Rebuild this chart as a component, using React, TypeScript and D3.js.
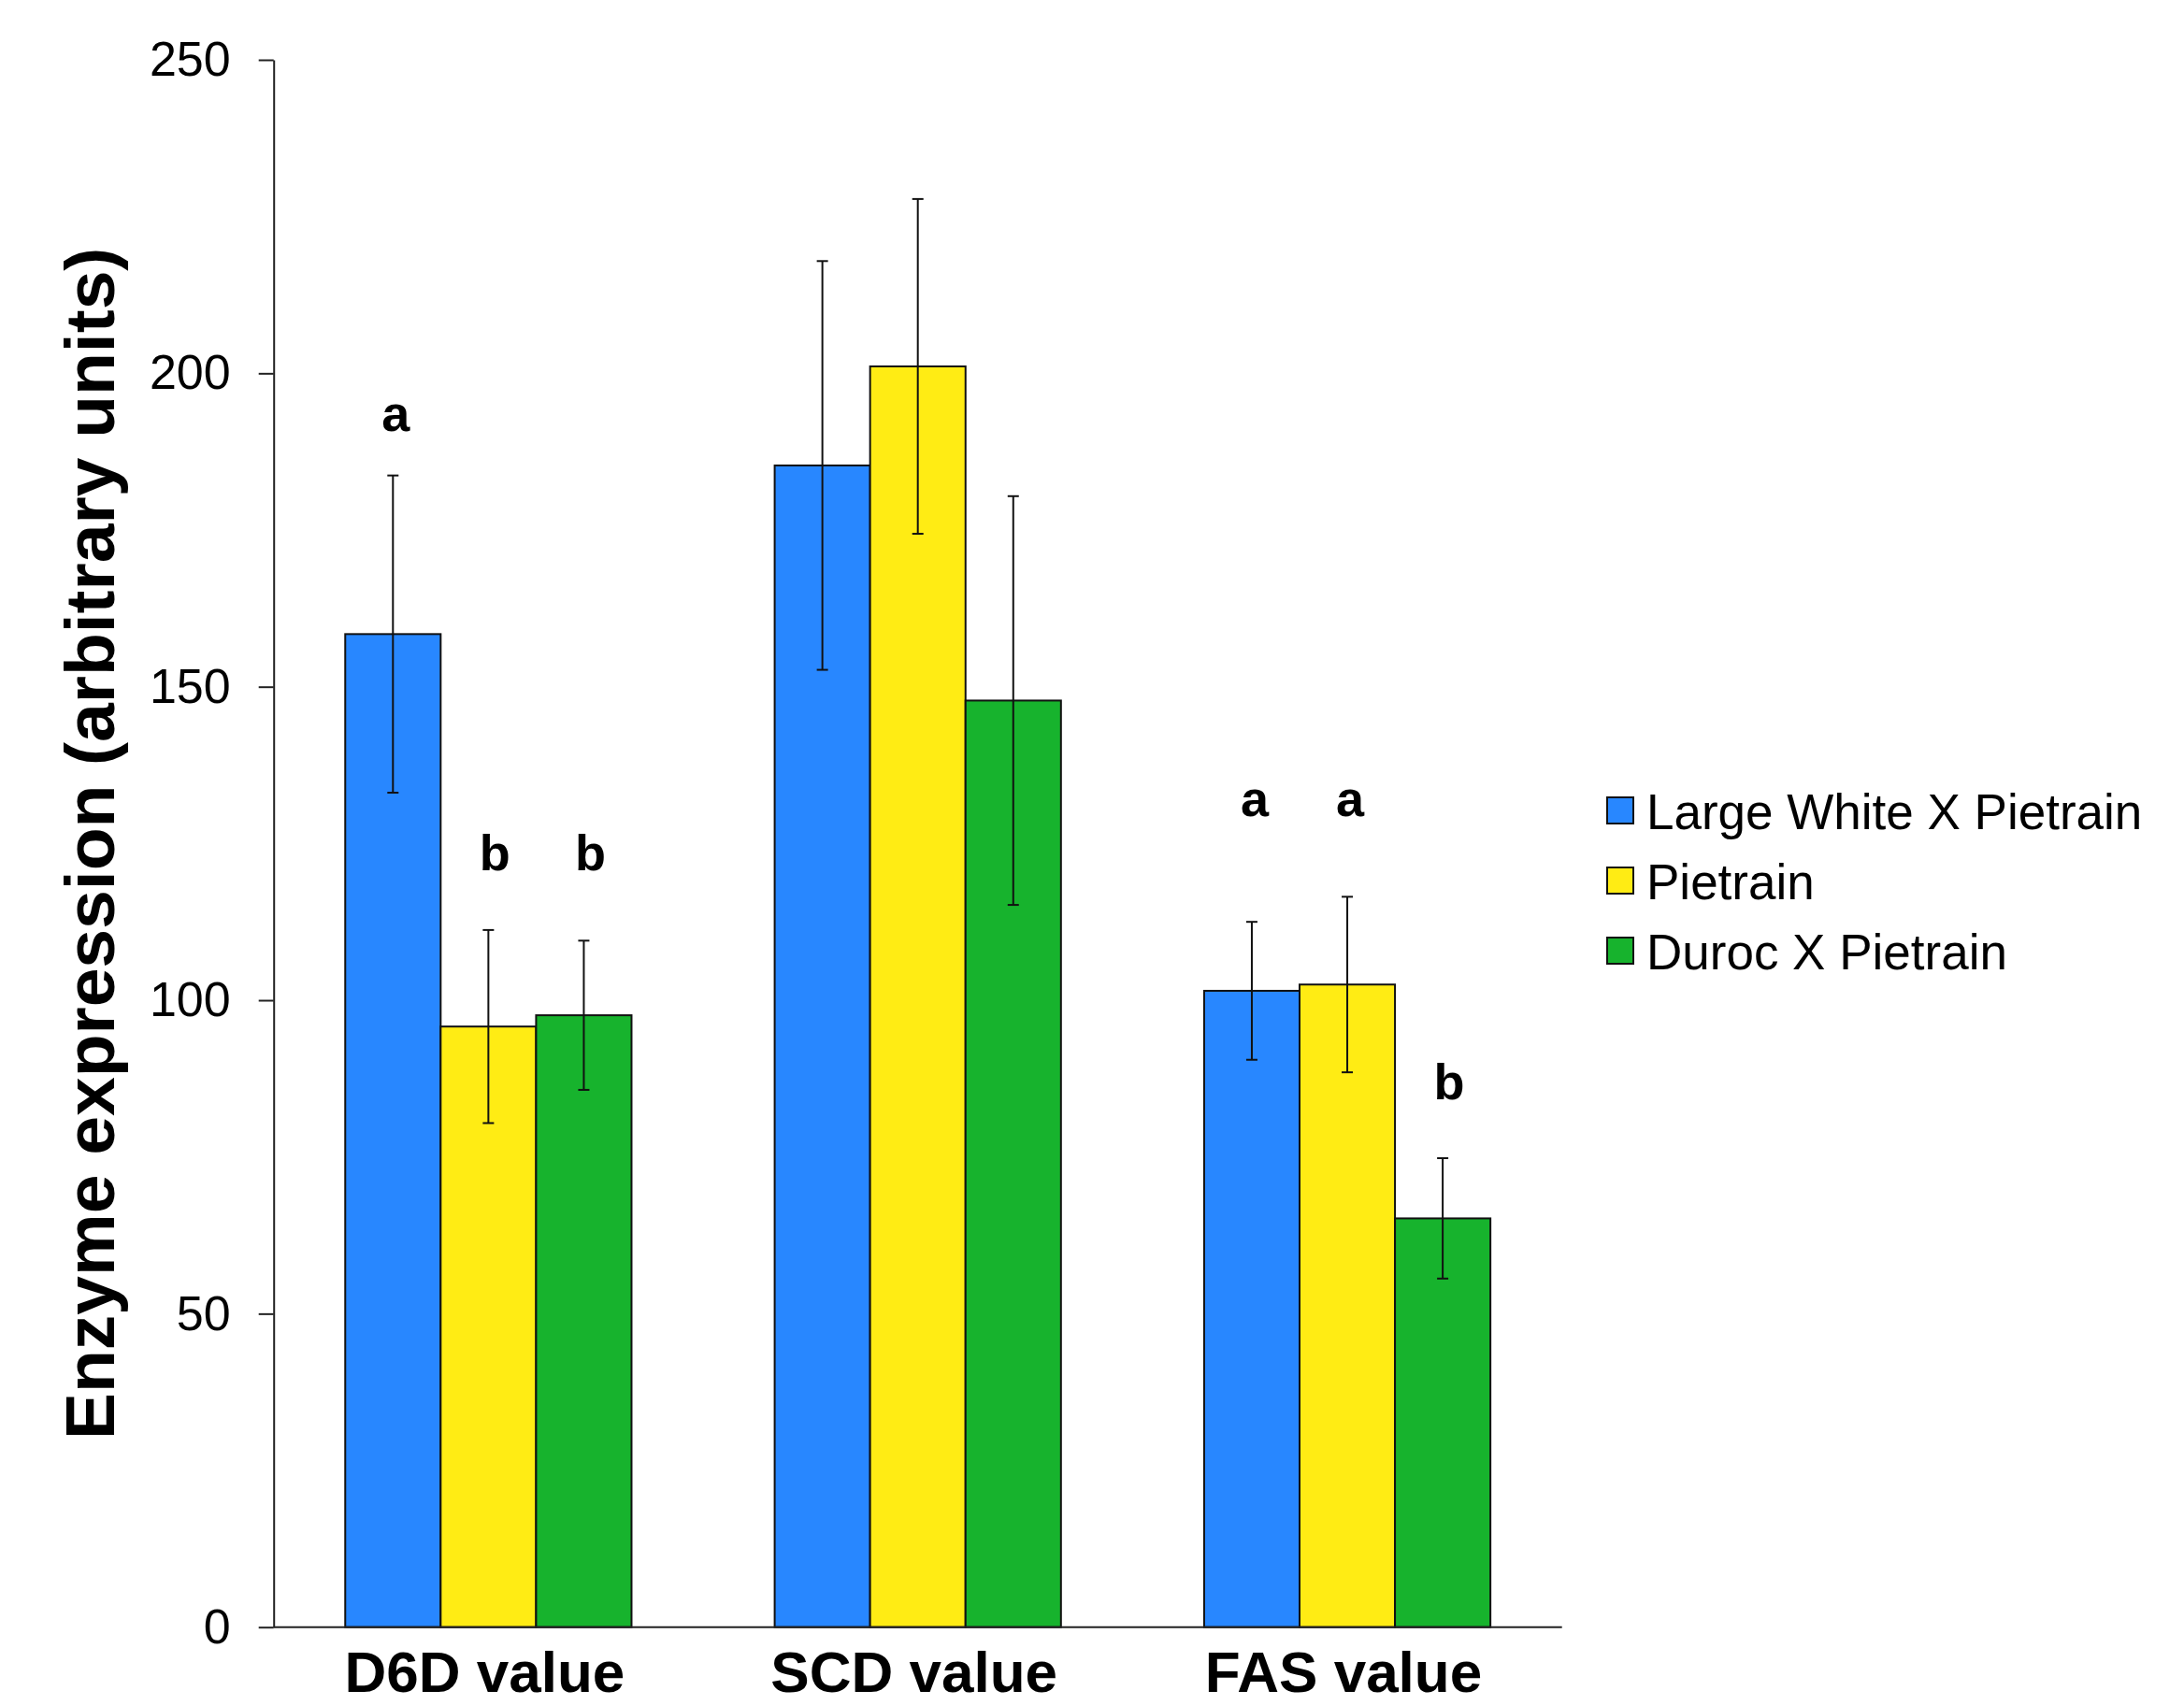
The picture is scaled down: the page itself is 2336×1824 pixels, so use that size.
import React, { useRef, useEffect } from "react";
import * as d3 from "d3";

const categories = ["D6D value", "SCD value", "FAS value"];
const seriesNames = ["Large White X Pietrain", "Pietrain", "Duroc X Pietrain"];
const seriesColors = ["#2887ff", "#ffec14", "#17b32d"];

// means, one array per series, in category order
const lwpValues = [158.4, 185.3, 101.5];
const pietrainValues = [95.8, 201.1, 102.5];
const durocValues = [97.6, 147.8, 65.2];

// error bar half-lengths
const lwpErrors = [25.3, 32.6, 11.0];
const pietrainErrors = [15.4, 26.7, 14.0];
const durocErrors = [11.9, 32.6, 9.6];

// significance letters and the value they sit at
const lwpLetters = ["a", "", "a"];
const pietrainLetters = ["b", "", "a"];
const durocLetters = ["b", "", "b"];
const lwpLetterAt = [190.8, 0, 129.4];
const pietrainLetterAt = [120.7, 0, 129.4];
const durocLetterAt = [120.7, 0, 84.2];

const yTicks = [0, 50, 100, 150, 200, 250];

const W = 2336;
const H = 1824;
const FONT = "'Liberation Sans', Arial, Helvetica, sans-serif";

export default function App() {
  const ref = useRef<SVGSVGElement>(null);

  useEffect(() => {
    const svg = d3.select(ref.current);
    svg.selectAll("*").remove();

    const left = 292.7, right = 1670.7, top = 64, bottom = 1740.7;

    const values = [lwpValues, pietrainValues, durocValues];
    const errors = [lwpErrors, pietrainErrors, durocErrors];
    const letters = [lwpLetters, pietrainLetters, durocLetters];
    const letterAt = [lwpLetterAt, pietrainLetterAt, durocLetterAt];

    const x0 = d3.scaleBand<string>()
      .domain(categories)
      .range([left, right])
      .paddingInner(1 / 3)
      .paddingOuter(1 / 6);

    const x1 = d3.scaleBand<string>()
      .domain(seriesNames)
      .range([0, x0.bandwidth()]);

    const y = d3.scaleLinear().domain([0, 250]).range([bottom, top]);

    const rows: any[] = [];
    categories.forEach((c, ci) => {
      seriesNames.forEach((s, si) => {
        rows.push({
          cat: c, series: s, si,
          value: values[si][ci],
          err: errors[si][ci],
          letter: letters[si][ci],
          letterAt: letterAt[si][ci],
        });
      });
    });

    const g = svg.append("g");

    // bars
    g.selectAll("rect.bar")
      .data(rows)
      .enter()
      .append("rect")
      .attr("class", "bar")
      .attr("x", (d) => x0(d.cat)! + x1(d.series)!)
      .attr("y", (d) => y(d.value))
      .attr("width", x1.bandwidth())
      .attr("height", (d) => y(0) - y(d.value))
      .attr("fill", (d) => seriesColors[d.si])
      .attr("stroke", "#111")
      .attr("stroke-width", 2);

    // error bars
    const cx = (d: any) => x0(d.cat)! + x1(d.series)! + x1.bandwidth() / 2;
    const eb = g.selectAll("g.err").data(rows).enter().append("g")
      .attr("stroke", "#111").attr("stroke-width", 2);
    eb.append("line")
      .attr("x1", cx).attr("x2", cx)
      .attr("y1", (d) => y(d.value - d.err))
      .attr("y2", (d) => y(d.value + d.err));
    eb.append("line")
      .attr("x1", (d) => cx(d) - 6).attr("x2", (d) => cx(d) + 6)
      .attr("y1", (d) => y(d.value + d.err))
      .attr("y2", (d) => y(d.value + d.err));
    eb.append("line")
      .attr("x1", (d) => cx(d) - 6).attr("x2", (d) => cx(d) + 6)
      .attr("y1", (d) => y(d.value - d.err))
      .attr("y2", (d) => y(d.value - d.err));

    // letters
    g.selectAll("text.letter")
      .data(rows.filter((d) => d.letter))
      .enter()
      .append("text")
      .attr("class", "letter")
      .attr("x", (d) => cx(d) + (d.letter === "b" ? 7 : 3))
      .attr("y", (d) => y(d.letterAt))
      .attr("text-anchor", "middle")
      .attr("font-family", FONT)
      .attr("font-weight", "bold")
      .attr("font-size", 54)
      .text((d) => d.letter);

    // y axis
    const yAxis = g.append("g")
      .attr("transform", `translate(${left},0)`)
      .call(d3.axisLeft(y).tickValues(yTicks).tickSize(16).tickSizeOuter(0).tickPadding(30));
    yAxis.select(".domain").attr("stroke", "#222").attr("stroke-width", 2);
    yAxis.selectAll(".tick line").attr("stroke", "#222").attr("stroke-width", 2);
    yAxis.selectAll(".tick text")
      .attr("font-family", FONT)
      .attr("font-size", 52)
      .attr("fill", "#000");

    // x axis line
    g.append("line")
      .attr("x1", left).attr("x2", right)
      .attr("y1", bottom).attr("y2", bottom)
      .attr("stroke", "#222").attr("stroke-width", 2);

    g.selectAll("text.cat")
      .data(categories)
      .enter()
      .append("text")
      .attr("class", "cat")
      .attr("x", (d) => x0(d)! + x0.bandwidth() / 2 - 4)
      .attr("y", 1810)
      .attr("text-anchor", "middle")
      .attr("font-family", FONT)
      .attr("font-weight", "bold")
      .attr("font-size", 62)
      .text((d) => d);

    // y title
    g.append("text")
      .attr("transform", `translate(122,${(top + bottom) / 2}) rotate(-90)`)
      .attr("text-anchor", "middle")
      .attr("font-family", FONT)
      .attr("font-weight", "bold")
      .attr("font-size", 75)
      .text("Enzyme expression (arbitrary units)");

    // legend
    const legend = g.selectAll("g.legend")
      .data(seriesNames)
      .enter()
      .append("g")
      .attr("class", "legend")
      .attr("transform", (d, i) => `translate(1719,${853 + i * 75})`);
    legend.append("rect")
      .attr("width", 28).attr("height", 28)
      .attr("fill", (d, i) => seriesColors[i])
      .attr("stroke", "#111").attr("stroke-width", 2);
    legend.append("text")
      .attr("x", 42).attr("y", 33.5)
      .attr("font-family", FONT)
      .attr("font-size", 53)
      .text((d) => d);
  }, []);

  return (
    <svg
      ref={ref}
      width={W}
      height={H}
      style={{ position: "absolute", left: 0, top: 0, background: "#fff", display: "block" }}
    />
  );
}
